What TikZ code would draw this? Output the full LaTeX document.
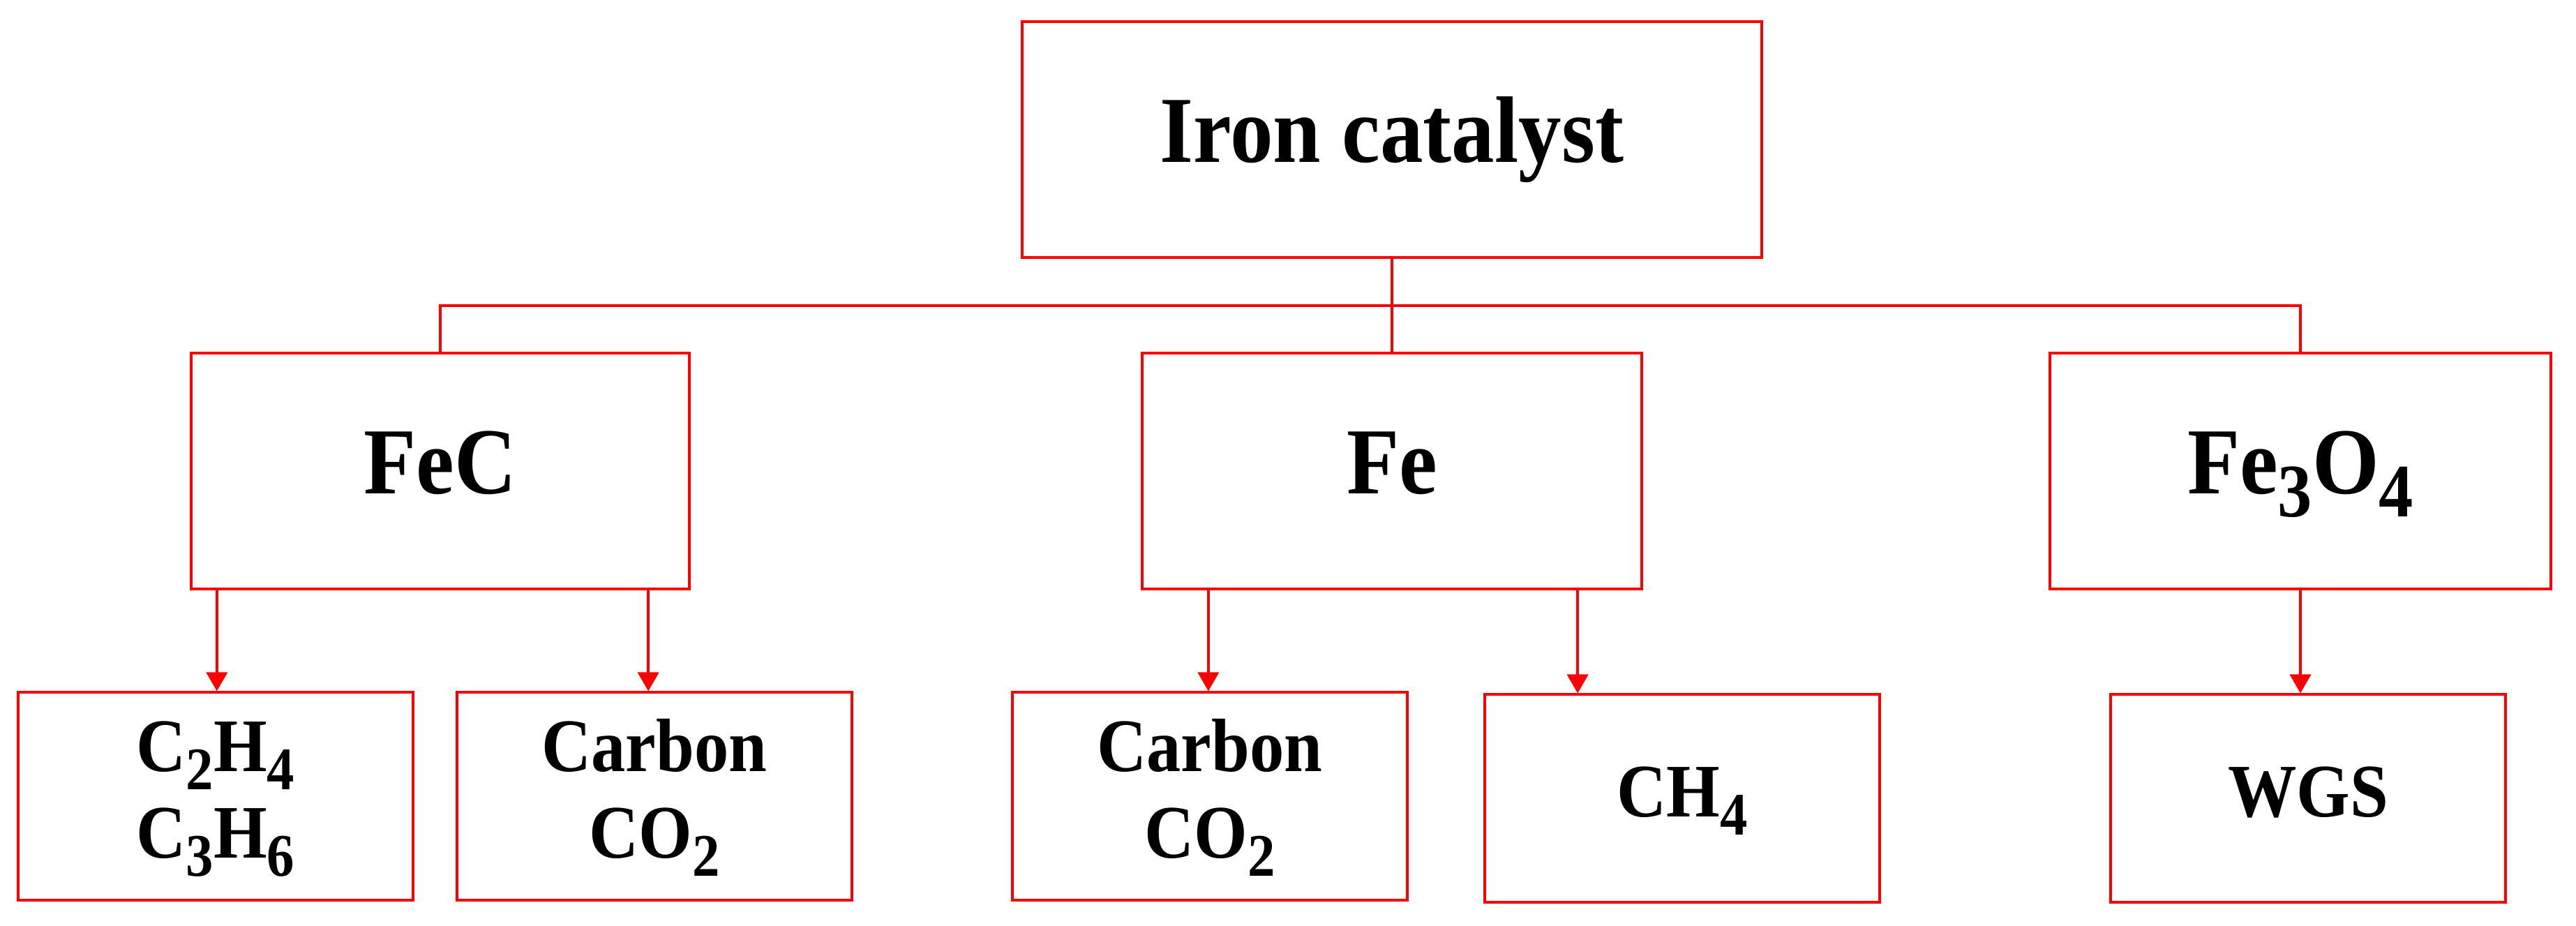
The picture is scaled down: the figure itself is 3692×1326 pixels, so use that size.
\documentclass[tikz,border=0pt]{standalone}
\usepackage{graphicx}
\usepackage{fontspec}
\setmainfont{Liberation Serif}
\usetikzlibrary{arrows.meta}
\newcommand{\chemsub}[1]{\raisebox{-0.24em}{\scalebox{0.8}{#1}}}
\newcommand{\talltext}[1]{\scalebox{1}[1.1]{\begin{tabular}{@{}c@{}}#1\end{tabular}}}
\begin{document}
\begin{tikzpicture}[x=0.01cm,y=-0.01cm,
  redline/.style={draw=red,line width=0.04cm},
  bigbox/.style={redline,rectangle,inner sep=0pt,minimum height=3.37cm,
    font=\fontsize{35}{42}\selectfont\bfseries,align=center},
  smallbox/.style={redline,rectangle,inner sep=0pt,minimum width=5.65cm,minimum height=2.97cm,
    font=\fontsize{28}{34}\selectfont\bfseries,align=center},
  arr/.style={redline,-{Triangle[width=0.3cm,length=0.27cm]}}]
\useasboundingbox (0,0) rectangle (3692,1326);
% top box
\node[bigbox,minimum width=10.6cm] (iron) at (1995,200) {\talltext{Iron catalyst}};
% middle boxes
\node[bigbox,minimum width=7.13cm] (fec) at (631,675) {\talltext{FeC}};
\node[bigbox,minimum width=7.16cm] (fe) at (1995,675) {\talltext{Fe}};
\node[bigbox,minimum width=7.18cm] (fe3o4) at (3297,675) {\talltext{Fe\chemsub{3}O\chemsub{4}}};
% bottom boxes
\node[smallbox] (c2h4) at (309,1141) {\talltext{C\chemsub{2}H\chemsub{4}\\[-2pt]C\chemsub{3}H\chemsub{6}}};
\node[smallbox] (carb1) at (938,1141) {\talltext{Carbon\\[-2pt]CO\chemsub{2}}};
\node[smallbox] (carb2) at (1734,1141) {\talltext{Carbon\\[-2pt]CO\chemsub{2}}};
\node[smallbox] (ch4) at (2411,1144) {\talltext{CH\chemsub{4}}};
\node[smallbox] (wgs) at (3308,1144) {\talltext{WGS}};
% bus
\coordinate (bus) at (1995,438);
\draw[redline] (iron.south) -- (fe.north);
\draw[redline] (fec.north) -- (fec.north |- bus) -- (fe3o4.north |- bus) -- (fe3o4.north);
% arrows
\draw[arr] ([xshift=-3.2cm]fec.south) -- ([xshift=-3.2cm]fec.south |- c2h4.north);
\draw[arr] ([xshift=2.98cm]fec.south) -- ([xshift=2.98cm]fec.south |- carb1.north);
\draw[arr] ([xshift=-2.63cm]fe.south) -- ([xshift=-2.63cm]fe.south |- carb2.north);
\draw[arr] ([xshift=2.66cm]fe.south) -- ([xshift=2.66cm]fe.south |- ch4.north);
\draw[arr] (fe3o4.south) -- (fe3o4.south |- wgs.north);
\end{tikzpicture}
\end{document}
